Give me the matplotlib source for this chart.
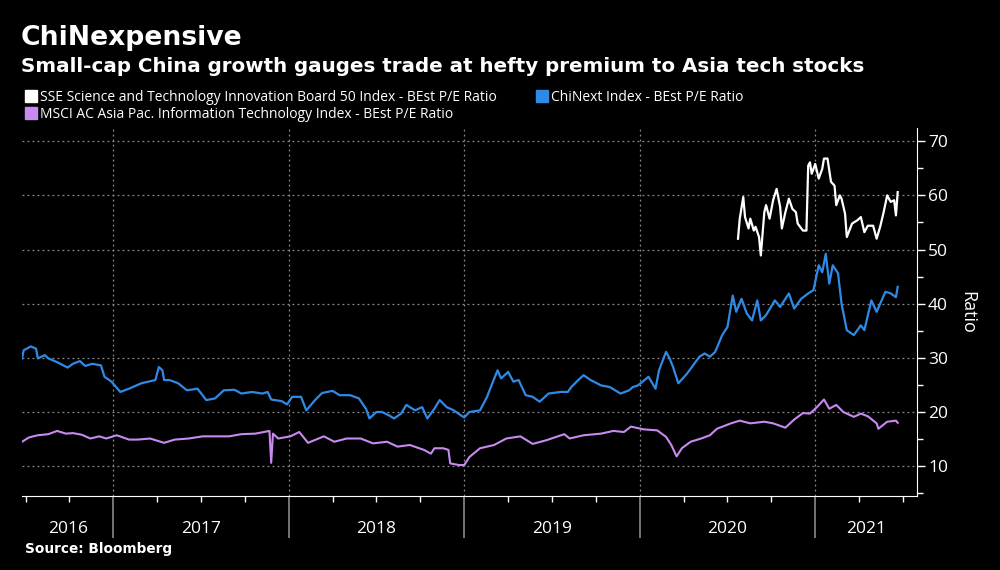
import matplotlib

matplotlib.use("Agg")
import matplotlib.pyplot as plt
import matplotlib.transforms as mtransforms
from matplotlib.lines import Line2D
from matplotlib.ticker import FixedLocator, MultipleLocator

# decimal-year positions and P/E readings
sse_x = [
    2020.56, 2020.57, 2020.59, 2020.60, 2020.62, 2020.63, 2020.65, 2020.66, 2020.68,
    2020.69, 2020.71, 2020.72, 2020.74, 2020.76, 2020.78, 2020.80, 2020.81, 2020.83,
    2020.85, 2020.87, 2020.89, 2020.90, 2020.93, 2020.95, 2020.96, 2020.97, 2020.98,
    2021.00, 2021.02, 2021.04, 2021.05, 2021.07, 2021.09, 2021.11, 2021.12, 2021.14,
    2021.15, 2021.17, 2021.18, 2021.21, 2021.24, 2021.26, 2021.28, 2021.30, 2021.33,
    2021.35, 2021.37, 2021.39, 2021.41, 2021.43, 2021.45, 2021.46, 2021.47,
]
sse_y = [
    52.0, 55.7, 59.7, 56.0, 53.9, 55.7, 53.5, 54.2, 52.3,
    48.9, 56.9, 58.2, 55.7, 59.1, 61.2, 57.9, 53.9, 56.9,
    59.4, 57.5, 56.9, 54.8, 53.5, 53.5, 65.5, 66.1, 64.0,
    65.8, 63.1, 64.9, 66.8, 66.8, 62.5, 61.8, 58.2, 60.0,
    59.4, 56.6, 52.3, 54.8, 55.4, 56.0, 53.2, 54.4, 54.4,
    52.0, 54.2, 56.9, 60.0, 58.8, 59.1, 56.3, 60.6,
]

chinext_x = [
    2016.48, 2016.49, 2016.53, 2016.56, 2016.57, 2016.61, 2016.63, 2016.68, 2016.74,
    2016.77, 2016.81, 2016.84, 2016.88, 2016.93, 2016.95, 2016.99, 2017.04, 2017.09,
    2017.16, 2017.24, 2017.26, 2017.28, 2017.29, 2017.32, 2017.37, 2017.42, 2017.48,
    2017.53, 2017.58, 2017.63, 2017.69, 2017.73, 2017.79, 2017.85, 2017.88, 2017.90,
    2017.96, 2017.99, 2018.02, 2018.07, 2018.10, 2018.15, 2018.19, 2018.25, 2018.29,
    2018.35, 2018.40, 2018.44, 2018.46, 2018.50, 2018.53, 2018.57, 2018.60, 2018.64,
    2018.67, 2018.72, 2018.76, 2018.79, 2018.83, 2018.86, 2018.90, 2018.94, 2018.98,
    2019.00, 2019.03, 2019.09, 2019.13, 2019.16, 2019.19, 2019.21, 2019.25, 2019.28,
    2019.31, 2019.35, 2019.39, 2019.43, 2019.48, 2019.55, 2019.59, 2019.61, 2019.65,
    2019.68, 2019.72, 2019.78, 2019.83, 2019.89, 2019.94, 2019.96, 2019.99, 2020.05,
    2020.09, 2020.11, 2020.15, 2020.17, 2020.19, 2020.22, 2020.27, 2020.34, 2020.37,
    2020.40, 2020.43, 2020.47, 2020.50, 2020.53, 2020.55, 2020.58, 2020.61, 2020.64,
    2020.67, 2020.69, 2020.72, 2020.77, 2020.80, 2020.85, 2020.88, 2020.92, 2020.96,
    2020.99, 2021.02, 2021.04, 2021.06, 2021.08, 2021.10, 2021.13, 2021.15, 2021.18,
    2021.22, 2021.26, 2021.28, 2021.32, 2021.35, 2021.40, 2021.43, 2021.46, 2021.47,
]
chinext_y = [
    29.9, 31.4, 32.1, 31.7, 29.9, 30.5, 29.9, 29.2, 28.2,
    28.9, 29.4, 28.5, 28.9, 28.6, 26.5, 25.6, 23.7, 24.3,
    25.3, 25.9, 28.3, 27.7, 25.9, 25.9, 25.3, 24.0, 24.3,
    22.2, 22.5, 24.0, 24.1, 23.4, 23.7, 23.4, 23.7, 22.3,
    22.0, 21.4, 22.8, 22.8, 20.3, 22.2, 23.5, 23.9, 23.1,
    23.1, 22.5, 20.6, 18.8, 20.0, 20.0, 19.4, 18.8, 19.7,
    21.3, 20.3, 20.9, 18.8, 20.6, 22.2, 20.9, 20.3, 19.4,
    19.0, 20.0, 20.3, 22.8, 25.3, 27.7, 26.2, 27.4, 25.6,
    25.9, 23.1, 22.8, 21.9, 23.4, 23.7, 23.7, 24.6, 25.9,
    26.8, 25.9, 24.9, 24.6, 23.4, 24.0, 24.6, 24.9, 26.5,
    24.3, 27.7, 31.1, 29.9, 28.3, 25.3, 27.1, 30.2, 30.8,
    30.2, 31.1, 34.2, 35.7, 41.5, 38.5, 40.9, 38.2, 36.9,
    40.6, 36.9, 37.9, 40.6, 39.4, 41.9, 39.1, 40.9, 41.9,
    42.5, 47.1, 45.8, 49.2, 43.7, 47.1, 45.6, 40.0, 35.1,
    34.2, 36.0, 35.1, 40.6, 38.5, 42.2, 41.9, 41.2, 43.1,
]

msci_x = [
    2016.48, 2016.52, 2016.57, 2016.63, 2016.68, 2016.73, 2016.77, 2016.82, 2016.87,
    2016.92, 2016.96, 2017.02, 2017.09, 2017.14, 2017.21, 2017.29, 2017.35, 2017.43,
    2017.51, 2017.58, 2017.66, 2017.73, 2017.81, 2017.89, 2017.90, 2017.91, 2017.94,
    2018.01, 2018.06, 2018.11, 2018.17, 2018.20, 2018.26, 2018.33, 2018.41, 2018.48,
    2018.56, 2018.62, 2018.69, 2018.77, 2018.81, 2018.83, 2018.88, 2018.91, 2018.92,
    2018.97, 2019.00, 2019.03, 2019.09, 2019.17, 2019.24, 2019.32, 2019.39, 2019.47,
    2019.57, 2019.60, 2019.68, 2019.78, 2019.85, 2019.91, 2019.95, 2020.02, 2020.10,
    2020.15, 2020.18, 2020.21, 2020.24, 2020.29, 2020.35, 2020.40, 2020.44, 2020.52,
    2020.57, 2020.63, 2020.71, 2020.76, 2020.83, 2020.88, 2020.93, 2020.97, 2021.01,
    2021.05, 2021.08, 2021.12, 2021.16, 2021.22, 2021.26, 2021.30, 2021.35, 2021.36,
    2021.41, 2021.46, 2021.47,
]
msci_y = [
    14.5, 15.3, 15.7, 15.9, 16.5, 16.0, 16.1, 15.8, 15.1,
    15.5, 15.1, 15.7, 14.9, 14.9, 15.1, 14.3, 14.9, 15.1,
    15.5, 15.5, 15.5, 15.9, 16.0, 16.5, 10.6, 16.0, 15.1,
    15.5, 16.3, 14.3, 15.1, 15.5, 14.5, 15.1, 15.1, 14.2,
    14.5, 13.6, 13.9, 13.0, 12.3, 13.3, 13.3, 13.0, 10.5,
    10.2, 10.2, 11.7, 13.3, 13.9, 15.1, 15.5, 14.1, 14.8,
    15.9, 15.1, 15.7, 16.0, 16.5, 16.3, 17.3, 16.8, 16.6,
    15.4, 13.9, 11.8, 13.3, 14.5, 15.1, 15.7, 16.9, 17.9,
    18.4, 17.9, 18.2, 17.9, 17.1, 18.6, 19.8, 19.7, 20.9,
    22.3, 20.6, 21.3, 20.0, 19.1, 19.7, 19.2, 17.9, 16.9,
    18.2, 18.4, 18.0,
]

year_labels = ["2016", "2017", "2018", "2019", "2020", "2021"]
year_bounds = [2017, 2018, 2019, 2020, 2021]
y_ticks = [10, 20, 30, 40, 50, 60, 70]

SERIES = [
    ("SSE Science and Technology Innovation Board 50 Index - BEst P/E Ratio", "#ffffff"),
    ("MSCI AC Asia Pac. Information Technology Index - BEst P/E Ratio", "#c98af0"),
    ("ChiNext Index - BEst P/E Ratio", "#2f8ae6"),
]

X_MIN, X_MAX = 2016.48, 2021.58
FONT = ["Open Sans", "DejaVu Sans"]


def main():
    plt.rcParams["font.family"] = FONT
    fig = plt.figure(figsize=(10, 5.7), dpi=100)
    fig.patch.set_facecolor("black")
    ax = fig.add_axes([0.022, 0.13, 0.895, 0.645])
    ax.set_facecolor("black")

    ax.plot(msci_x, msci_y, color=SERIES[1][1], lw=1.5)
    ax.plot(chinext_x, chinext_y, color=SERIES[2][1], lw=1.6)
    ax.plot(sse_x, sse_y, color=SERIES[0][1], lw=1.6)

    ax.set_xlim(X_MIN, X_MAX)
    ax.set_ylim(4.5, 72.4)

    for side in ("top", "left"):
        ax.spines[side].set_visible(False)
    ax.spines["bottom"].set_color("white")
    ax.spines["right"].set_color("white")

    # y axis on the right
    ax.yaxis.tick_right()
    ax.yaxis.set_label_position("right")
    ax.yaxis.set_major_locator(FixedLocator(y_ticks))
    ax.yaxis.set_minor_locator(MultipleLocator(5))
    ax.tick_params(axis="y", which="major", colors="white", labelsize=12.5,
                   length=6, width=1, pad=2)
    ax.tick_params(axis="y", which="minor", colors="white", length=4, width=1)
    ax.set_ylabel("Ratio", color="white", fontsize=13, rotation=-90, labelpad=20)

    # x axis: long grey year separators, short quarter ticks
    ax.xaxis.set_major_locator(FixedLocator(year_bounds))
    ax.xaxis.set_minor_locator(FixedLocator(
        [2016.5, 2016.75, 2017.25, 2017.5, 2017.75, 2018.25, 2018.5, 2018.75,
         2019.25, 2019.5, 2019.75, 2020.25, 2020.5, 2020.75, 2021.25, 2021.5]))
    ax.tick_params(axis="x", which="major", colors="#8a8a8a", length=30, width=1.2,
                   labelbottom=False)
    ax.tick_params(axis="x", which="minor", colors="white", length=4, width=1)

    ax.grid(True, which="major", axis="both", color="#8c8c8c", ls=(0, (1.5, 2.5)), lw=0.9)

    trans = mtransforms.blended_transform_factory(ax.transData, fig.transFigure)
    edges = [X_MIN] + year_bounds + [X_MAX]
    for i, lab in enumerate(year_labels):
        xc = (edges[i] + edges[i + 1]) / 2
        ax.text(xc, 1 - 529 / 570, lab, transform=trans, color="white",
                fontsize=12.5, ha="center", va="center")

    title_font = ["DejaVu Sans"]
    fig.text(0.021, 1 - 38 / 570, "ChiNexpensive", color="white", fontsize=19.2,
             fontweight="bold", va="center", ha="left", family=title_font)
    fig.text(0.021, 1 - 66 / 570,
             "Small-cap China growth gauges trade at hefty premium to Asia tech stocks",
             color="white", fontsize=14.3, fontweight="bold", va="center", ha="left",
             family=title_font)
    fig.text(0.025, 1 - 549 / 570, "Source: Bloomberg", color="white", fontsize=9.8,
             fontweight="bold", va="center", ha="left", family=title_font)

    handles = [Line2D([], [], ls="none", marker="s", markersize=8, color=c)
               for _, c in SERIES]
    fig.legend(handles, [n for n, _ in SERIES], ncol=2, loc="upper left",
               bbox_to_anchor=(0.026, 1 - 90 / 570), frameon=False,
               fontsize=10, labelcolor="white", handlelength=0.7,
               handletextpad=0.3, columnspacing=2.9, labelspacing=0.15,
               borderpad=0, borderaxespad=0)

    fig.savefig("out.png", dpi=100, facecolor=fig.get_facecolor())


if __name__ == "__main__":
    main()
